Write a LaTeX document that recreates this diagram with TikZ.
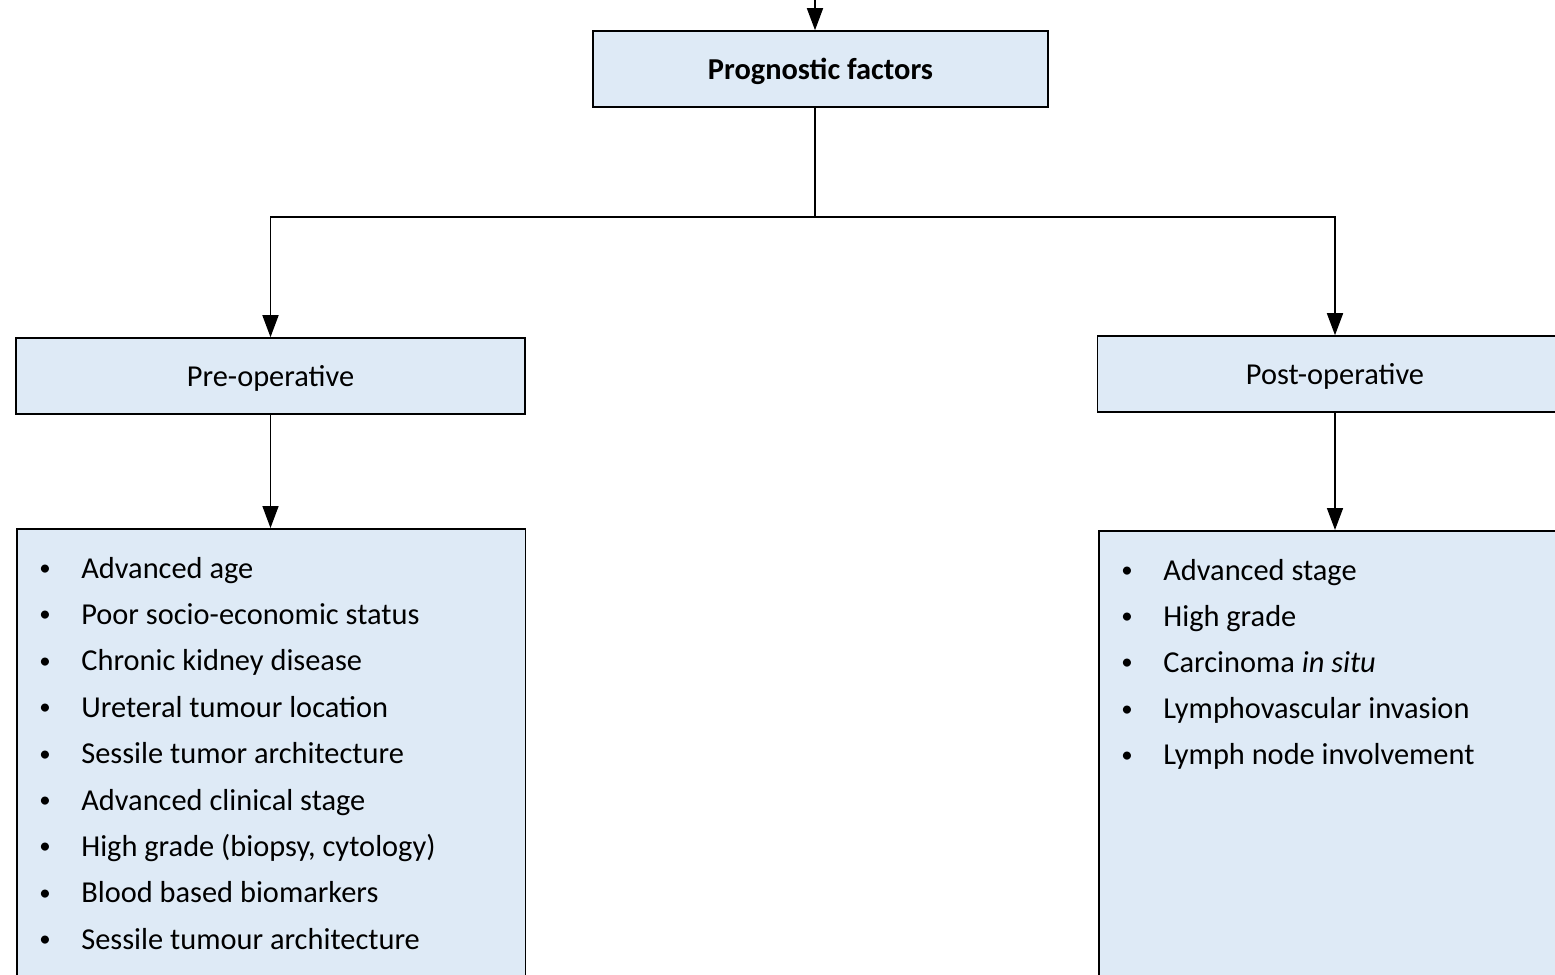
\documentclass[tikz,border=0pt]{standalone}
\usepackage{fontspec}
\setmainfont{Carlito}
\usepackage{xcolor}
\usetikzlibrary{arrows.meta}
\definecolor{boxblue}{HTML}{DEEAF6}
\newcommand{\itm}[1]{\makebox[0.84cm][l]{\raisebox{0.08em}{\fontsize{13}{13}\selectfont\textbullet}}#1}

\begin{document}
\begin{tikzpicture}[x=0.02cm, y=-0.02cm,
        heading/.style={rectangle, draw, line width=0.9pt, fill=boxblue, minimum height=1.52cm, align=center, text height=0.55cm, text depth=0.12cm, font=\fontsize{17.3}{20}\selectfont},
        listbox/.style={rectangle, draw, line width=0.9pt, fill=boxblue, anchor=north west},
        item/.style={anchor=base west, inner sep=0pt, font=\fontsize{17.3}{20}\selectfont},
        arr/.style={-{Triangle[width=0.32cm, length=0.44cm]}, line width=0.9pt}
    ]
        \useasboundingbox (0,0) rectangle (1555,974);
        \clip (0,0) rectangle (1555,974);
        \fill[white] (0,0) rectangle (1555,974);

        \node[heading, minimum width=9.1cm] (prog) at (820.5,69) {\textbf{Prognostic factors}};
        \node[heading, minimum width=10.18cm] (preop) at (270.5,376) {Pre-operative};
        \node[heading, minimum width=9.5cm] (postop) at (1335,374) {Post-operative};

        \node[listbox, minimum width=10.18cm, minimum height=10cm] (prelist) at (16,528) {};
        \node[listbox, minimum width=9.5cm, minimum height=10cm] (postlist) at (1098,530) {};

        % pre-operative factors
        \foreach \t [count=\i] in {Advanced age, Poor socio-economic status, Chronic kidney disease,
            Ureteral tumour location, Sessile tumor architecture, Advanced clinical stage,
            {High grade (biopsy, cytology)}, Blood based biomarkers, Sessile tumour architecture}
            \node[item] (pre\i) at (39,{578+46.4*(\i-1)}) {\itm{\t}};

        % post-operative factors
        \foreach \t [count=\i] in {Advanced stage, High grade, {Carcinoma \textit{in situ}},
            Lymphovascular invasion, Lymph node involvement}
            \node[item] (post\i) at (1121,{580+46.2*(\i-1)}) {\itm{\t}};

        \coordinate (top) at (815,-40);
        \coordinate (split) at (815,217);
        \draw[arr] (top) -- (top |- prog.north);
        \draw[line width=0.9pt] (split |- prog.south) -- (split);
        \draw[arr] (split) -| (preop.north);
        \draw[arr] (split) -| (postop.north);
        \draw[arr] (preop) -- (prelist.north -| preop);
        \draw[arr] (postop) -- (postlist.north -| postop);
    \end{tikzpicture}
\end{document}
